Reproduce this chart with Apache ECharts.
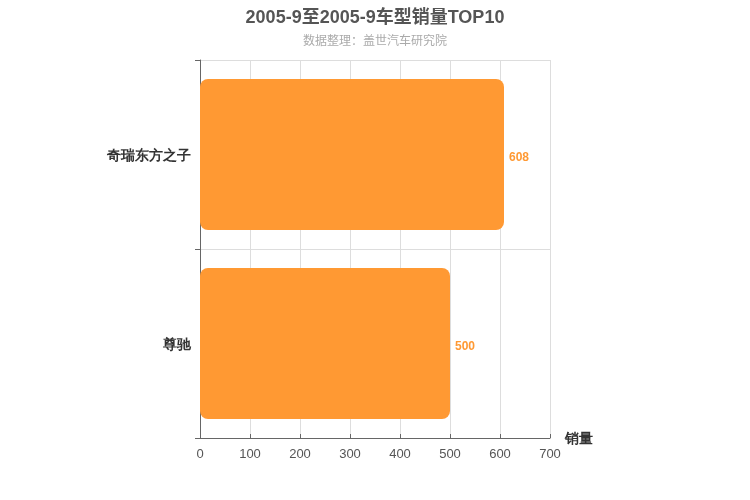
<!DOCTYPE html>
<html><head><meta charset="utf-8">
<script src="https://cdn.jsdelivr.net/npm/echarts@6/dist/echarts.min.js"></script>
<style>html,body{margin:0;padding:0;background:#fff}#c{width:750px;height:500px}</style>
</head><body><div id="c"></div>
<script>
const categories = ['尊驰', '奇瑞东方之子'];
const sales = [500, 608];
const xTicks = [0, 100, 200, 300, 400, 500, 600, 700];

const chart = echarts.init(document.getElementById('c'));
chart.setOption({
  backgroundColor: '#fff',
  animation: false,
  title: {
    text: '2005-9至2005-9车型销量TOP10',
    subtext: '数据整理：盖世汽车研究院',
    left: 'center',
    top: 4,
    itemGap: 9,
    textStyle: { fontSize: 18, fontWeight: 'bold', color: '#555', fontFamily: 'Arial, "Noto Sans CJK SC", sans-serif' },
    subtextStyle: { fontSize: 12, color: '#aaa', fontFamily: 'Arial, "Noto Sans CJK SC", sans-serif' }
  },
  grid: { left: 200, right: 200, top: 60, bottom: 62 },
  xAxis: {
    type: 'value',
    min: xTicks[0],
    max: xTicks[xTicks.length - 1],
    interval: 100,
    name: '销量',
    nameLocation: 'end',
    nameGap: 15,
    nameTextStyle: { fontSize: 14, fontWeight: 'bold', color: '#333', verticalAlign: 'top', padding: [-6, 0, 0, 0] },
    axisLine: { show: true, lineStyle: { color: '#666', width: 1 } },
    axisTick: { show: true, inside: true, length: 4, lineStyle: { color: '#666' }, alignWithLabel: true },
    axisLabel: { color: '#555', fontSize: 13, margin: 10 },
    splitLine: { show: true, lineStyle: { color: '#ddd' } }
  },
  yAxis: {
    type: 'category',
    data: categories,
    axisLine: { show: true, lineStyle: { color: '#666', width: 1 } },
    axisTick: { show: true, length: 5, lineStyle: { color: '#666' } },
    axisLabel: { color: '#333', fontSize: 14, fontWeight: 'bold', margin: 9, verticalAlign: 'top', padding: [-5, 0, 0, 0] },
    splitLine: { show: true, lineStyle: { color: '#ddd' } }
  },
  series: [{
    type: 'bar',
    data: sales,
    barWidth: '80%',
    itemStyle: { color: '#FF9933', borderRadius: 8 },
    label: { show: true, position: 'right', color: '#FF9933', fontWeight: 'bold', fontSize: 12, distance: 5, offset: [0, 3] }
  }]
});
</script></body></html>
